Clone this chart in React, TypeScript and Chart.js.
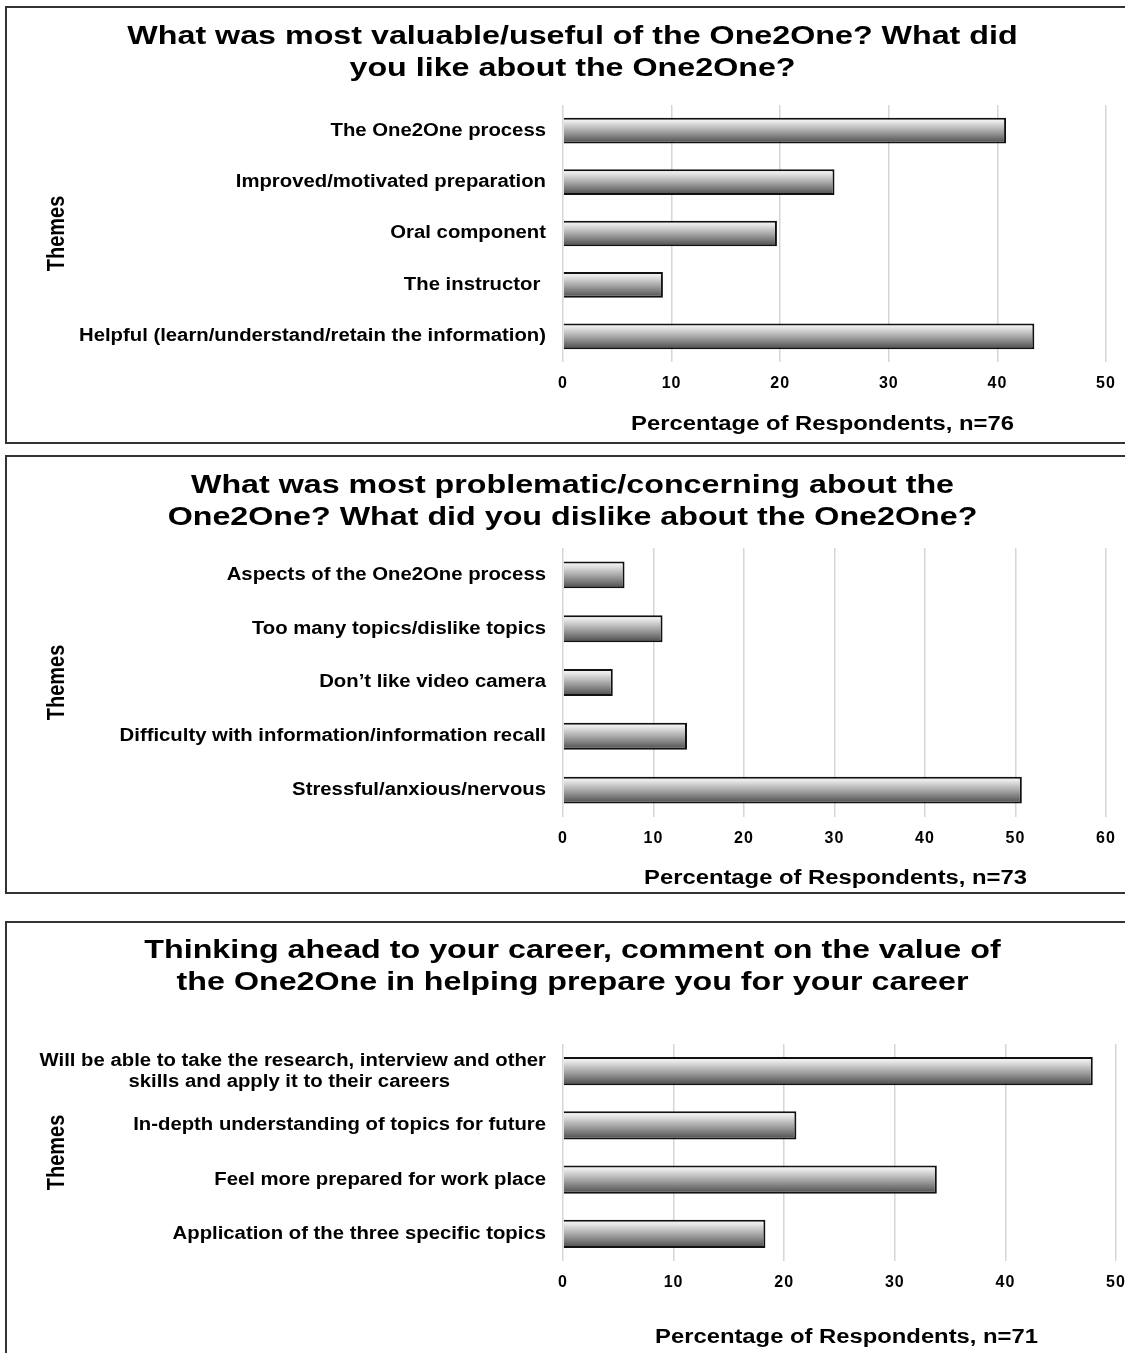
import React, { useEffect, useRef } from "react";
import { Chart, registerables } from "chart.js";

Chart.register(...registerables);

const FONT = "'Liberation Sans', Arial, Helvetica, sans-serif";

// ---------- data ----------
const chart1Title = [
  "What was most valuable/useful of the One2One? What did",
  "you like about the One2One?",
];
const chart1Categories = [
  "The One2One process",
  "Improved/motivated preparation",
  "Oral component",
  "The instructor ",
  "Helpful (learn/understand/retain the information)",
];
const chart1Values = [40.8, 25.0, 19.7, 9.2, 43.4];
const chart1AxisTitle = "Percentage of Respondents, n=76";
const chart1Max = 50;

const chart2Title = [
  "What was most problematic/concerning about the",
  "One2One? What did you dislike about the One2One?",
];
const chart2Categories = [
  "Aspects of the One2One process",
  "Too many topics/dislike topics",
  "Don\u2019t like video camera",
  "Difficulty with information/information recall",
  "Stressful/anxious/nervous",
];
const chart2Values = [6.8, 11.0, 5.5, 13.7, 50.7];
const chart2AxisTitle = "Percentage of Respondents, n=73";
const chart2Max = 60;

const chart3Title = [
  "Thinking ahead to your career, comment on the value of",
  "the One2One in helping prepare you for your career",
];
const chart3Categories: (string | string[])[] = [
  [
    "Will be able to take the research, interview and other",
    "skills and apply it to their careers                 ",
  ],
  "In-depth understanding of topics for future",
  "Feel more prepared for work place",
  "Application of the three specific topics",
];
const chart3Values = [47.9, 21.1, 33.8, 18.3];
const chart3AxisTitle = "Percentage of Respondents, n=71";
const chart3Max = 50;

const yAxisTitle = "Themes";
const tickStep = 10;

// ---------- layout specs ----------
type Spec = {
  title: string[];
  categories: (string | string[])[];
  values: number[];
  xMax: number;
  axisTitle: string;
  top: number;
  panelHeight: number;
  canvasHeight: number;
  titlePadTop: number;
  titlePadBottom: number;
  xAxisHeight: number;
  axisTitlePadBottom: number;
  axisTitleShift: number;
  rightPad: number;
  barPct: number;
};

const PANELS: Spec[] = [
  {
    title: chart1Title,
    categories: chart1Categories,
    values: chart1Values,
    xMax: chart1Max,
    axisTitle: chart1AxisTitle,
    top: 6,
    panelHeight: 438,
    canvasHeight: 434,
    titlePadTop: 13,
    titlePadBottom: 20,
    xAxisHeight: 80,
    axisTitlePadBottom: 6,
    axisTitleShift: -12,
    rightPad: 32,
    barPct: 0.5,
  },
  {
    title: chart2Title,
    categories: chart2Categories,
    values: chart2Values,
    xMax: chart2Max,
    axisTitle: chart2AxisTitle,
    top: 455,
    panelHeight: 439,
    canvasHeight: 435,
    titlePadTop: 13,
    titlePadBottom: 14,
    xAxisHeight: 75,
    axisTitlePadBottom: 2,
    axisTitleShift: 1,
    rightPad: 32,
    barPct: 0.5,
  },
  {
    title: chart3Title,
    categories: chart3Categories,
    values: chart3Values,
    xMax: chart3Max,
    axisTitle: chart3AxisTitle,
    top: 921,
    panelHeight: 450,
    canvasHeight: 446,
    titlePadTop: 12,
    titlePadBottom: 45,
    xAxisHeight: 108,
    axisTitlePadBottom: 20,
    axisTitleShift: 7,
    rightPad: 22,
    barPct: 0.52,
  },
];

const CANVAS_WIDTH = 1131;
const Y_AXIS_WIDTH = 556;
const Y_TICK_PAD = 17;
const Y_TITLE_PAD = 38;

// Text-stretch plugin: the reference text is horizontally widened.
function makeTextPlugin(spec: Spec) {
  return {
    id: "textStretch",
    beforeDraw(chart: any) {
      const ctx: any = chart.ctx;
      const stretch = (obj: any, key: string, pivot: () => number, k: number, dx = 0) => {
        if (!obj || obj["__s_" + key]) return;
        const orig = obj[key];
        obj[key] = function (...args: any[]) {
          const p = pivot();
          ctx.save();
          ctx.translate(p + dx, 0);
          ctx.scale(k, 1);
          ctx.translate(-p, 0);
          try {
            return orig.apply(this, args);
          } finally {
            ctx.restore();
          }
        };
        obj["__s_" + key] = true;
      };
      const spaced = (obj: any, key: string, sp: string) => {
        if (!obj || obj["__l_" + key]) return;
        const orig = obj[key];
        obj[key] = function (...args: any[]) {
          const prev = ctx.letterSpacing;
          ctx.letterSpacing = sp;
          try {
            return orig.apply(this, args);
          } finally {
            ctx.letterSpacing = prev || "0px";
          }
        };
        obj["__l_" + key] = true;
      };
      const tb = chart.titleBlock;
      const xs = chart.scales.x;
      const ys = chart.scales.y;
      stretch(tb, "draw", () => (tb.left + tb.right) / 2, 1.24);
      stretch(xs, "drawTitle", () => (xs.left + xs.right) / 2, 1.19, spec.axisTitleShift);
      spaced(xs, "drawLabels", "1px");
      stretch(ys, "drawLabels", () => ys.right - Y_TICK_PAD, 1.128);
      stretch(ys, "drawTitle", () => ys.left + Y_TITLE_PAD + 12, 1.2);
    },
  };
}

const barGradient = (c: any) => {
  const chart = c.chart;
  const area = chart.chartArea;
  const yScale = chart.scales && chart.scales.y;
  if (!area || !yScale || c.dataIndex === undefined || c.dataIndex === null) return "#999999";
  const n = chart.data.labels.length;
  const pct = c.dataset.barPercentage ?? 0.5;
  const center = yScale.getPixelForValue(c.dataIndex);
  const half = ((yScale.bottom - yScale.top) / n) * pct / 2;
  if (!isFinite(center) || !isFinite(half) || half <= 0) return "#999999";
  const g = chart.ctx.createLinearGradient(0, center - half, 0, center + half);
  g.addColorStop(0, "#fbfbfb");
  g.addColorStop(0.15, "#e8e8e8");
  g.addColorStop(0.55, "#a0a0a0");
  g.addColorStop(1, "#4a4a4a");
  return g;
};

function buildConfig(spec: Spec): any {
  return {
    type: "bar",
    data: {
      labels: spec.categories,
      datasets: [
        {
          data: spec.values,
          backgroundColor: barGradient,
          borderColor: "#111111",
          borderWidth: 2,
          barPercentage: spec.barPct,
          categoryPercentage: 1,
        },
      ],
    },
    options: {
      indexAxis: "y",
      responsive: false,
      animation: false,
      devicePixelRatio: 1,
      layout: { padding: 0 },
      plugins: {
        legend: { display: false },
        tooltip: { enabled: false },
        title: {
          display: true,
          text: spec.title,
          color: "#000",
          font: { family: FONT, size: 26, weight: "bold", lineHeight: 32 / 26 },
          padding: { top: spec.titlePadTop, bottom: spec.titlePadBottom },
        },
      },
      scales: {
        x: {
          type: "linear",
          position: "bottom",
          min: 0,
          max: spec.xMax,
          ticks: {
            stepSize: tickStep,
            color: "#000",
            font: { family: FONT, size: 16, weight: "bold" },
            padding: 12,
          },
          grid: { display: true, drawTicks: false, color: "#d6d6d6", lineWidth: 1.5 },
          border: { display: false },
          title: {
            display: true,
            text: spec.axisTitle,
            color: "#000",
            font: { family: FONT, size: 20, weight: "bold" },
            padding: { top: 0, bottom: spec.axisTitlePadBottom },
          },
          afterFit: (s: any) => {
            s.height = spec.xAxisHeight;
            s.paddingRight = spec.rightPad;
          },
        },
        y: {
          type: "category",
          position: "left",
          grid: { display: false, drawTicks: false },
          border: { display: false },
          ticks: {
            color: "#000",
            font: { family: FONT, size: 18, weight: "bold", lineHeight: 1.17 },
            padding: Y_TICK_PAD,
            autoSkip: false,
          },
          title: {
            display: true,
            text: yAxisTitle,
            color: "#000",
            font: { family: FONT, size: 20, weight: "bold" },
            padding: { top: Y_TITLE_PAD, bottom: 0 },
          },
          afterFit: (s: any) => {
            s.width = Y_AXIS_WIDTH;
          },
        },
      },
    },
    plugins: [makeTextPlugin(spec)],
  };
}

export default function App() {
  const r1 = useRef<HTMLCanvasElement>(null);
  const r2 = useRef<HTMLCanvasElement>(null);
  const r3 = useRef<HTMLCanvasElement>(null);
  const refs = [r1, r2, r3];

  useEffect(() => {
    const charts = PANELS.map((p, i) => new Chart(refs[i].current as HTMLCanvasElement, buildConfig(p)));
    return () => charts.forEach((c) => c.destroy());
  }, []);

  return (
    <div
      style={{
        position: "absolute",
        left: 0,
        top: 0,
        width: 1125,
        height: 1353,
        overflow: "hidden",
        background: "#ffffff",
      }}
    >
      {PANELS.map((p, i) => (
        <div
          key={i}
          style={{
            position: "absolute",
            left: 5,
            top: p.top,
            width: CANVAS_WIDTH + 4,
            height: p.panelHeight,
            border: "2px solid #333333",
            boxSizing: "border-box",
            background: "#ffffff",
          }}
        >
          <canvas
            ref={refs[i]}
            width={CANVAS_WIDTH}
            height={p.canvasHeight}
            style={{ display: "block" }}
          />
        </div>
      ))}
    </div>
  );
}
